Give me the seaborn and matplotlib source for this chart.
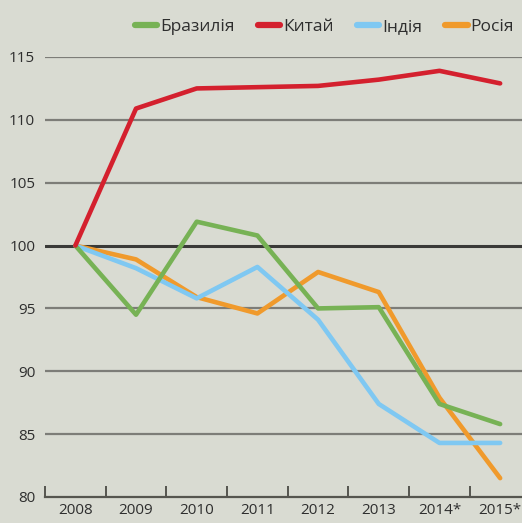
import pandas as pd
import matplotlib.pyplot as plt
import seaborn as sns

# Data (2008 = 100)
years = ['2008', '2009', '2010', '2011', '2012', '2013', '2014*', '2015*']
brazil = [100, 94.5, 101.9, 100.8, 95.0, 95.1, 87.4, 85.8]
china = [100, 110.9, 112.5, 112.6, 112.7, 113.2, 113.9, 112.9]
india = [100, 98.2, 95.8, 98.3, 94.1, 87.4, 84.3, 84.3]
russia = [100, 98.9, 95.9, 94.6, 97.9, 96.3, 87.9, 81.5]

names = ['Бразилія', 'Китай', 'Індія', 'Росія']
colors = ['#77b255', '#d4202e', '#7fc8f2', '#f09a2c']

rows = []
for name, vals in zip(names, [brazil, china, india, russia]):
    for i, v in enumerate(vals):
        rows.append({'pos': i, 'value': v, 'country': name})
df = pd.DataFrame(rows)

bg = '#d9dbd2'
sns.set_theme(style='white')
plt.rcParams['font.family'] = ['Open Sans', 'DejaVu Sans']

fig = plt.figure(figsize=(5.22, 5.23), dpi=100, facecolor=bg)
ax = fig.add_axes([45 / 522, 26 / 523, 477 / 522, 440 / 523])
ax.set_facecolor(bg)

# Horizontal grid lines
for y in [85, 90, 95, 105, 110, 115]:
    ax.axhline(y, color='#7d7d78', lw=1.6, zorder=1)
ax.axhline(100, color='#3a3a38', lw=2.2, zorder=1)

sns.lineplot(data=df, x='pos', y='value', hue='country', hue_order=names,
             palette=colors, linewidth=3.3, ax=ax)

# Draw order: orange, blue, green, red on top
z = {'Бразилія': 4, 'Китай': 5, 'Індія': 3, 'Росія': 2}
for line, name in zip(ax.get_lines()[7:], names):
    line.set_zorder(z[name])

ax.set_xlim(-0.5, 7.36)
ax.set_ylim(80, 115)
ax.set_xlabel('')
ax.set_ylabel('')

ax.set_xticks(range(len(years)))
ax.set_xticklabels(years, fontsize=11, color='#2e2e2e')
ax.set_xticks([i - 0.5 for i in range(len(years))], minor=True)
ax.tick_params(axis='x', which='major', length=0, pad=4)
ax.tick_params(axis='x', which='minor', direction='in', length=8, width=1.4,
               color='#55554f', bottom=True)

ax.set_yticks([80, 85, 90, 95, 100, 105, 110, 115])
ax.set_yticklabels(['80', '85', '90', '95', '100', '105', '110', '115'],
                   fontsize=11, color='#2e2e2e')
ax.tick_params(axis='y', length=0, pad=7)

for s in ['top', 'right', 'left']:
    ax.spines[s].set_visible(False)
ax.spines['bottom'].set_color('#55554f')
ax.spines['bottom'].set_linewidth(1.6)

handles, labels = ax.get_legend_handles_labels()
for h in handles:
    h.set_linewidth(4.5)
ax.legend(handles, labels, ncol=4, loc='lower right', bbox_to_anchor=(0.998, 1.035),
          frameon=False, fontsize=12.5, handlelength=1.3, handletextpad=0.15,
          columnspacing=1.35, borderaxespad=0, labelcolor='#2e2e2e')

fig.savefig('out.png', dpi=100, facecolor=bg)
